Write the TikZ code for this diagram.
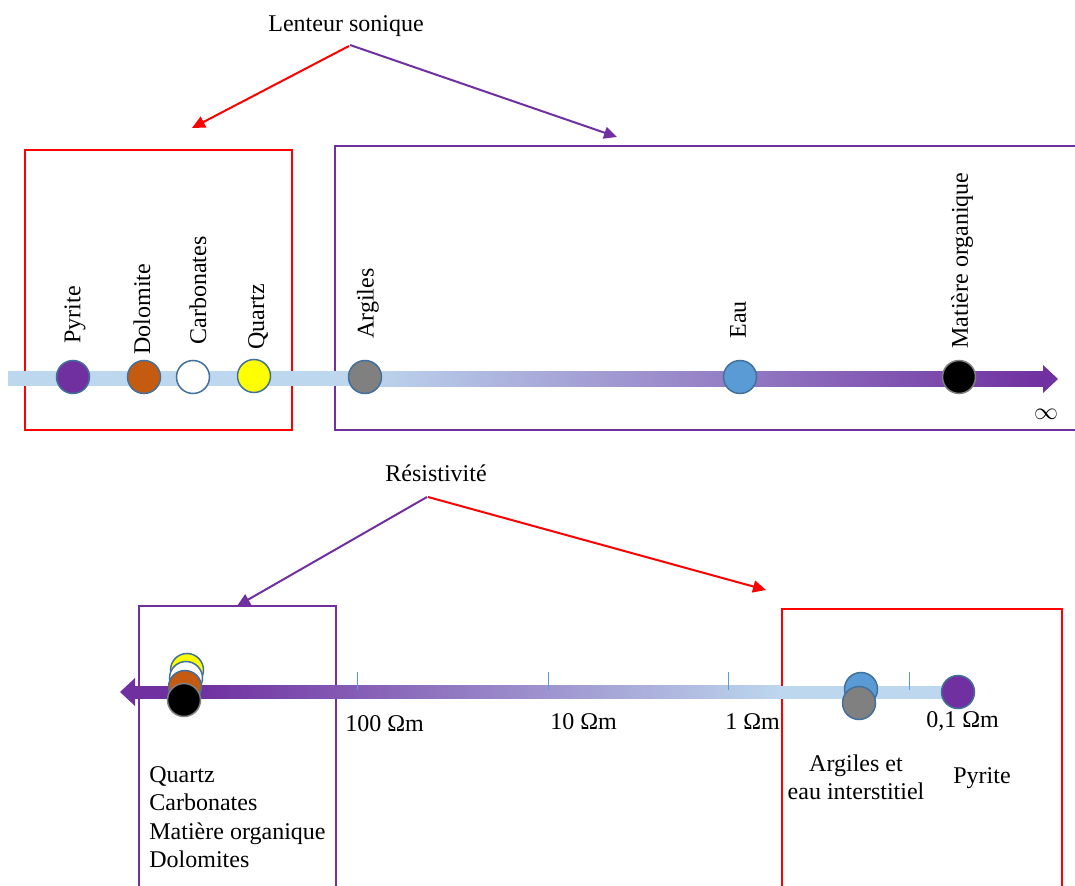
\documentclass[tikz,border=0pt]{standalone}
\usepackage{fontspec}
\setmainfont{Liberation Serif}
\usetikzlibrary{arrows.meta}
\definecolor{lblue}{HTML}{BDD7EE}
\definecolor{purp}{HTML}{7030A0}
\definecolor{dotline}{HTML}{41719C}
\definecolor{tickc}{HTML}{5B9BD5}
\definecolor{brownc}{HTML}{C55A11}
\definecolor{bluec}{HTML}{5B9BD5}
\definecolor{grayc}{HTML}{808080}
\definecolor{yellowc}{HTML}{FFFF00}
\begin{document}
\begin{tikzpicture}[x=0.5pt,y=-0.5pt,
  txt/.style={font=\fontsize{12}{14}\selectfont, inner sep=0pt},
  vlab/.style={txt, rotate=90, anchor=west},
  dot/.style={circle, draw=dotline, line width=0.75pt, minimum size=16.5pt, inner sep=0pt},
  boxred/.style={draw=red, line width=1pt},
  boxpurp/.style={draw=purp, line width=1pt},
  arr/.style={line width=1pt, -{Triangle[length=6.5pt,width=6pt]}}]
\useasboundingbox (0,0) rectangle (1075,886);

% ---------- top: Lenteur sonique ----------
\node[txt, anchor=base] (ls) at (346,32) {Lenteur sonique};
\coordinate (lsa) at (349,46);
\coordinate (lsb) at (350,45);
\coordinate (ra) at (192,128);
\coordinate (pa) at (617,137);
\draw[arr, red] (lsa) -- (ra);
\draw[arr, purp] (lsb) -- (pa);

\draw[boxred] (25,150) rectangle (292,430);
\draw[boxpurp] (1090,146) -- (335,146) -- (335,430) -- (1090,430);

% axis
\fill[lblue] (8,371.5) rectangle (360,386.5);
\shade[left color=lblue, right color=purp] (359,371.5) rectangle (1044,386.5);
\fill[purp] (1043,365) -- (1058,379) -- (1043,393) -- cycle;

% circles
\node[dot, fill=purp] (cpy) at (73,377) {};
\node[dot, fill=brownc] (cdo) at (144,377) {};
\node[dot, fill=white] (cca) at (193,377) {};
\node[dot, fill=yellowc] (cqu) at (254,376) {};
\node[dot, fill=grayc] (car) at (365,377) {};
\node[dot, fill=bluec] (cea) at (740,377) {};
\node[dot, fill=black, draw=gray] (cmo) at (959,377) {};

% labels
\node[vlab] (lpy) at (75,344) {Pyrite};
\node[vlab] (ldo) at (142,355) {Dolomite};
\node[vlab] (lca) at (198,345) {Carbonates};
\node[vlab] (lqu) at (258,350) {Quartz};
\node[vlab] (lar) at (368,339) {Argiles};
\node[vlab] (lea) at (738,339) {Eau};
\node[vlab] (lmo) at (962,349) {Matière organique};
\node[txt] (inf) at (1046,414) {$\infty$};

% ---------- bottom: Résistivité ----------
\node[txt, anchor=base] (res) at (436,482) {Résistivité};
\coordinate (rsa) at (427,497);
\coordinate (rsb) at (428,497);
\coordinate (pb) at (237,606);
\coordinate (rb) at (766,590);
\draw[arr, purp] (rsa) -- (pb);
\draw[arr, red] (rsb) -- (rb);

\draw[boxpurp] (139,900) -- (139,606) -- (336,606) -- (336,900);
\draw[boxred] (782,900) -- (782,609) -- (1062,609) -- (1062,900);

% axis
\fill[purp] (120,692) -- (135,678) -- (135,706) -- cycle;
\fill[purp] (134,685.5) rectangle (200,698.5);
\shade[left color=purp, right color=lblue] (199,685.5) rectangle (781,698.5);
\fill[lblue] (780,685.5) rectangle (950,698.5);

% ticks
\foreach \tx in {357,548,728,909}
  \draw[tickc, line width=0.5pt] (\tx,672) -- (\tx,690);

% circles
\node[dot, fill=yellowc] (byq) at (187,670) {};
\node[dot, fill=white] (bwc) at (186,678) {};
\node[dot, fill=brownc] (bbd) at (185,687) {};
\node[dot, fill=black, draw=gray] (bkm) at (184,700) {};
\node[dot, fill=bluec] (bbe) at (861,689) {};
\node[dot, fill=grayc] (bga) at (859,703) {};
\node[dot, fill=purp] (bpy) at (958,692) {};

% scale labels
\node[txt, anchor=base west] (t100) at (345,731) {100 Ωm};
\node[txt, anchor=base west] (t10) at (550,729) {10 Ωm};
\node[txt, anchor=base west] (t1) at (725,729) {1 Ωm};
\node[txt, anchor=base west] (t01) at (926,727) {0,1 Ωm};

% text
\node[txt, anchor=north west, align=left, font=\fontsize{12}{14.25}\selectfont] (lst) at (149,766)
  {Quartz\\Carbonates\\Matière organique\\Dolomites};
\node[txt, anchor=north, align=center] (arg) at (856,754) {Argiles et\\eau interstitiel};
\node[txt, anchor=base] (pyr) at (982,783) {Pyrite};
\end{tikzpicture}
\end{document}
